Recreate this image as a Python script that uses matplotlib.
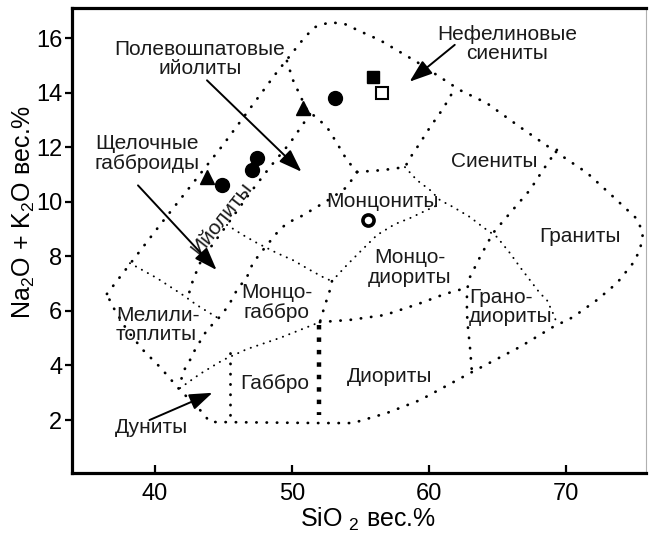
""" Диаграмма SiO2 - (Na2O + K2O) для плутонических пород """

import matplotlib
matplotlib.use("Agg")
import matplotlib.pyplot as plt

plt.rcParams["font.family"] = ["Liberation Sans", "DejaVu Sans"]
plt.rcParams["mathtext.fontset"] = "custom"
plt.rcParams["mathtext.rm"] = "Liberation Sans"
plt.rcParams["mathtext.it"] = "Liberation Sans:italic"

# --- границы полей (SiO2, Na2O+K2O) ---
OBOLOCHKA = [
  (36.49, 6.62), (40.37, 9.15), (44.97, 12.08), (48.91, 14.75), (50.96, 16.04),
  (51.69, 16.40), (52.78, 16.58), (53.88, 16.51), (54.97, 16.25), (56.44, 15.92),
  (59.14, 15.12), (62.28, 14.09), (64.25, 13.61), (66.66, 12.74), (69.07, 11.90),
  (71.56, 11.06), (73.46, 10.19), (75.21, 9.37), (75.65, 8.85), (75.43, 8.23),
  (74.92, 7.75), (73.75, 7.02), (72.29, 6.40), (70.53, 5.77), (69.07, 5.41),
  (66.66, 4.68), (63.01, 3.72), (59.36, 2.73), (56.95, 2.26), (54.46, 1.89),
  (52.05, 1.89), (44.02, 1.93), (43.29, 2.37), (41.83, 3.10), (40.37, 3.94),
  (39.12, 4.57), (37.95, 5.30), (36.86, 6.21), (36.49, 6.62),
]
GRAN_NEF = [
  (49.64, 15.16), (50.08, 14.46), (50.59, 13.91), (51.10, 13.36), (51.83, 13.07),
  (52.56, 12.74), (53.29, 12.15), (54.02, 11.53), (54.76, 11.09),
]
GRAN_IJOL = [
  (51.32, 13.21), (49.86, 12.15), (48.40, 11.27), (46.94, 10.32), (45.99, 9.66),
  (45.26, 9.15), (44.02, 8.30), (43.29, 7.75), (42.78, 7.13), (42.34, 6.40),
]
GRAN_MELIL = [(38.17, 7.75), (40.15, 7.20), (42.05, 6.58), (43.07, 6.21), (44.60, 5.74)]
GRAN_SIEN = [
  (54.76, 11.09), (56.65, 11.16), (58.26, 11.27), (58.77, 11.71), (59.36, 12.15),
  (60.09, 12.73), (60.82, 13.25), (61.33, 13.65), (61.91, 14.16),
]
GRAN_MONC = [
  (54.76, 11.09), (54.02, 10.54), (53.00, 10.17), (51.83, 9.81), (50.59, 9.44),
  (49.64, 9.22), (48.91, 8.86), (47.89, 8.23), (47.16, 7.76), (46.72, 7.24),
  (45.99, 6.77), (45.48, 6.29), (44.97, 5.92), (44.53, 5.67), (43.80, 5.30),
  (42.92, 4.57), (42.56, 4.20), (42.05, 3.76), (41.83, 3.28),
]
GRAN_GABBROID = [
  (45.26, 9.15), (46.43, 8.78), (47.45, 8.49), (48.91, 8.12), (50.08, 7.86),
  (51.32, 7.50), (52.27, 7.24), (52.93, 7.09),
]
GRAN_MDIOR = [
  (52.93, 7.09), (54.02, 7.68), (54.97, 8.16), (56.22, 8.78), (57.53, 9.18),
  (58.63, 9.40), (59.72, 9.66), (60.82, 9.92),
]
GRAN_MGAB = [(52.93, 7.09), (52.78, 6.76), (52.42, 6.21), (52.20, 5.85), (52.05, 5.59)]
GRAN_GAB_DIOR = [(51.98, 5.48), (51.98, 2.20)]
GRAN_DUNIT = [(45.48, 4.45), (45.48, 1.93)]
GRAN_NIZ_1 = [
  (41.83, 3.17), (43.29, 3.69), (44.97, 4.20), (46.72, 4.60), (49.13, 5.01),
  (50.59, 5.30), (52.05, 5.59),
]
GRAN_NIZ_2 = [
  (52.05, 5.59), (54.24, 5.67), (56.80, 5.85), (59.21, 6.25), (61.18, 6.62),
  (62.72, 6.84),
]
GRAN_GRANIT_1 = [
  (58.26, 11.27), (59.14, 10.79), (60.09, 10.43), (60.82, 10.06), (61.77, 9.81),
  (63.01, 9.44), (63.96, 9.07), (64.98, 8.71), (65.93, 8.12), (66.66, 7.61),
  (67.39, 7.13), (68.12, 6.65), (68.63, 6.40), (69.07, 5.92), (69.36, 5.55),
]
GRAN_GRANIT_2 = [
  (69.36, 11.90), (68.34, 11.16), (67.39, 10.43), (65.93, 9.58), (64.69, 8.85),
  (63.74, 7.97), (63.01, 7.24), (62.79, 6.76), (62.79, 5.92), (62.86, 5.41),
  (63.01, 4.68), (63.16, 3.72),
]

# --- точки анализов ---
TREUG_X = [43.80, 50.81]
TREUG_Y = [10.90, 13.43]
KRUG_X = [44.89, 47.09, 47.45, 53.15]
KRUG_Y = [10.62, 11.16, 11.60, 13.80]
KVADR_X = [55.92]
KVADR_Y = [14.57]
KVADR_PUST_X = [56.58]
KVADR_PUST_Y = [13.98]
KRUG_PUST_X = [55.56]
KRUG_PUST_Y = [9.33]

# --- подписи полей: текст, x, y, выравнивание ---
PODPISI = [
  ("Полевошпатовые\nийолиты", 43.29, 15.23, "center"),
  ("Нефелиновые\nсиениты", 65.71, 15.78, "center"),
  ("Щелочные\nгабброиды", 35.62, 11.78, "left"),
  ("Монцониты", 56.65, 10.02, "center"),
  ("Сиениты", 64.76, 11.48, "center"),
  ("Граниты", 71.05, 8.74, "center"),
  ("Монцо-\nдиориты", 58.60, 7.60, "center"),
  ("Монцо-\nгаббро", 48.90, 6.32, "center"),
  ("Грано-\nдиориты", 62.95, 6.14, "left"),
  ("Мелили-\nтоплиты", 37.15, 5.48, "left"),
  ("Габбро", 48.77, 3.35, "center"),
  ("Диориты", 57.17, 3.60, "center"),
  ("Дуниты", 39.78, 1.71, "center"),
]

# стрелки: откуда, куда
STRELKI = [
  ((43.8, 14.45), (50.7, 11.1)),
  ((61.9, 15.75), (58.6, 14.4)),
  ((38.76, 10.6), (44.5, 7.5)),
  ((39.6, 2.0), (44.2, 3.0)),
]

OSNOVNAYA = dict(color="black", lw=2.0, ls=(0, (0.1, 3.6)), dash_capstyle="round")
TONKAYA = dict(color="black", lw=1.4, ls=(0, (0.1, 3.4)), dash_capstyle="round")


def linia(ax, puntos, estilo):
  xs = [p[0] for p in puntos]
  ys = [p[1] for p in puntos]
  ax.plot(xs, ys, **estilo)


def grafica() -> None:
  fig = plt.figure(figsize=(6.51, 5.36), dpi=100)
  ax = fig.add_axes([72 / 651, 1 - 473 / 536, 574 / 651, 465 / 536])

  for puntos in [OBOLOCHKA, GRAN_NEF, GRAN_IJOL, GRAN_SIEN, GRAN_MONC,
                 GRAN_MGAB, GRAN_DUNIT, GRAN_NIZ_2, GRAN_GRANIT_2]:
    linia(ax, puntos, OSNOVNAYA)
  for puntos in [GRAN_MELIL, GRAN_GABBROID, GRAN_MDIOR, GRAN_NIZ_1, GRAN_GRANIT_1]:
    linia(ax, puntos, TONKAYA)
  linia(ax, GRAN_GAB_DIOR, dict(color="black", lw=3.2, ls=(0, (1, 1.8)),
                                dash_capstyle="butt"))

  ax.plot(TREUG_X, TREUG_Y, "^", color="black", ms=10)
  ax.plot(KRUG_X, KRUG_Y, "o", color="black", ms=10)
  ax.plot(KVADR_X, KVADR_Y, "s", color="black", ms=8.5)
  ax.plot(KVADR_PUST_X, KVADR_PUST_Y, "s", mfc="white", mec="black", mew=1.5, ms=8.5)
  ax.plot(KRUG_PUST_X, KRUG_PUST_Y, "o", mfc="white", mec="black", mew=2.6, ms=8)

  for texto, x, y, ha in PODPISI:
    ax.text(x, y, texto, ha=ha, va="center", fontsize=15, color="#1a1a1a",
            linespacing=1.05)
  ax.text(44.9, 9.38, "Ийолиты", rotation=52, ha="center", va="center",
          fontsize=15, color="#1a1a1a", rotation_mode="anchor")

  for desde, hasta in STRELKI:
    ax.annotate("", xy=hasta, xytext=desde,
                arrowprops=dict(arrowstyle="-|>,head_length=0.7,head_width=0.25",
                                mutation_scale=20, lw=1.4, color="black",
                                shrinkA=0, shrinkB=0))

  ax.set_xlim(33.94, 75.87)
  ax.set_ylim(0.06, 17.1)
  ax.set_xticks([40, 50, 60, 70])
  ax.set_yticks([2, 4, 6, 8, 10, 12, 14, 16])
  ax.tick_params(axis="x", direction="in", length=6, width=1.6, labelsize=17, pad=7)
  ax.tick_params(axis="y", direction="out", length=5, width=1.6, labelsize=17, pad=2)
  for lado in ["left", "top", "bottom"]:
    ax.spines[lado].set_linewidth(2.3)
  ax.spines["right"].set_linewidth(0.8)
  ax.spines["right"].set_color("#b0b0b0")

  fig.text(368 / 651, 1 - 519 / 536, "SiO $\\mathregular{_2}$ вес.%", fontsize=18,
           ha="center", va="center")
  fig.text(24 / 651, 1 - 212 / 536, "Na$\\mathregular{_2}$O + K$\\mathregular{_2}$O вес.%",
           fontsize=18, ha="center", va="center", rotation=90)

  fig.savefig("out.png", dpi=100)


if __name__ == "__main__":
  grafica()
